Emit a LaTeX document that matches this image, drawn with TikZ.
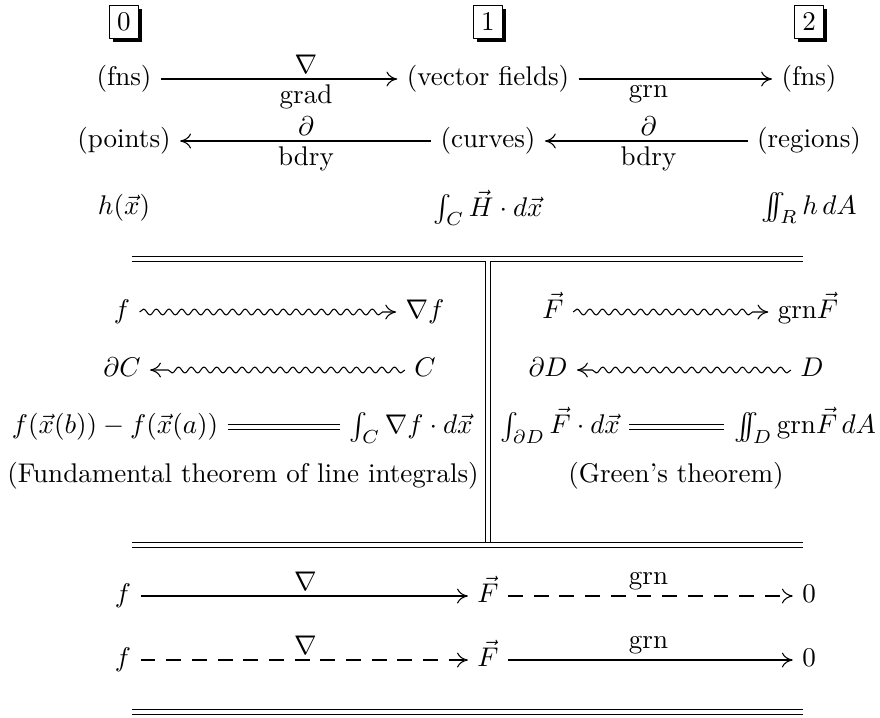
\documentclass[tikz,border=0pt]{standalone}
\usepackage{amsmath}
\usetikzlibrary{arrows.meta,calc,decorations.pathmorphing,shadows}

\begin{document}
\begin{tikzpicture}[x=0.37pt,y=-0.37pt,line join=round,>={To[length=4pt,width=5.5pt]},
	ent/.style={text height=7.5pt,text depth=2.5pt},
	lbl/.style={inner sep=2pt},
	numbox/.style={draw,fill=white,inner sep=3pt,drop shadow={shadow xshift=1.3pt,shadow yshift=-1.3pt,fill=black,opacity=1}},
	wavy/.style={->,decorate,decoration={snake,amplitude=1.1pt,segment length=4.7pt,post length=4.5pt}},
	dasharr/.style={->,dash pattern=on 5.5pt off 4pt},
	dbl/.style={double,double distance=1.3pt}]
	\useasboundingbox (0,0) rectangle (880,717);
	% degrees
	\node[numbox] (d0) at (124,22) {$0$};
	\node[numbox] (d1) at (488,22) {$1$};
	\node[numbox] (d2) at (809,22) {$2$};
	% spaces and maps
	\node[ent] (fnsa) at (124,79) {(fns)};
	\node[ent] (vf) at (488,79) {(vector fields)};
	\node[ent] (fnsb) at (809,79) {(fns)};
	\draw[->] (fnsa) -- (vf);
	\draw[->] (vf) -- (fnsb);
	\node[lbl,above] at ($(fnsa)!.5!(vf)$) {$\nabla$};
	\node[lbl,below] at ($(fnsa)!.5!(vf)$) {grad};
	\node[lbl,below] at ($(vf)!.5!(fnsb)$) {grn};
	\node[ent] (pts) at (124,141) {(points)};
	\node[ent] (crv) at (488,141) {(curves)};
	\node[ent] (reg) at (809,141) {(regions)};
	\draw[->] (crv) -- (pts);
	\draw[->] (reg) -- (crv);
	\node[lbl,above] at ($(pts)!.5!(crv)$) {$\partial$};
	\node[lbl,below] at ($(pts)!.5!(crv)$) {bdry};
	\node[lbl,above] at ($(crv)!.5!(reg)$) {$\partial$};
	\node[lbl,below] at ($(crv)!.5!(reg)$) {bdry};
	\node (ha) at (124,208) {$h(\vec x)$};
	\node (hb) at (488,208) {$\int_C \vec H\cdot d\vec x$};
	\node (hc) at (809,208) {$\int\mkern-11mu\int_R h\,dA$};
	\draw[dbl] (132,259) -- (803,259);
	% the two theorems
	\draw[dbl] (488,261) -- (488,543);
	\node[ent] (f1) at (122,312) {$f$};
	\node[ent] (gf) at (425,312) {$\nabla f$};
	\draw[wavy] (f1) -- (gf);
	\node[ent] (F1) at (553,312) {$\vec F$};
	\node[ent] (gF) at (808,312) {$\mathrm{grn}\vec F$};
	\draw[wavy] (F1) -- (gF);
	\node[ent] (dC) at (122,370) {$\partial C$};
	\node[ent] (C) at (425,370) {$C$};
	\draw[wavy] (C) -- (dC);
	\node[ent] (dD) at (548,370) {$\partial D$};
	\node[ent] (D) at (812,370) {$D$};
	\draw[wavy] (D) -- (dD);
	\node[ent] (lhsa) at (115,427) {$f(\vec x(b))-f(\vec x(a))$};
	\node[ent] (rhsa) at (411,427) {$\int_C \nabla f\cdot d\vec x$};
	\draw[dbl] (lhsa) -- (rhsa);
	\node[ent] (lhsb) at (560,427) {$\int_{\partial D}\vec F\cdot d\vec x$};
	\node[ent] (rhsb) at (805,427) {$\int\mkern-11mu\int_D \mathrm{grn}\vec F\,dA$};
	\draw[dbl] (lhsb) -- (rhsb);
	\node (ftli) at (243,476) {(Fundamental theorem of line integrals)};
	\node (gt) at (676,476) {(Green's theorem)};
	\draw[dbl] (132,545) -- (803,545);
	% exactness
	\node[ent] (fa) at (123,596) {$f$};
	\node[ent] (Fa) at (488,596) {$\vec F$};
	\node[ent] (za) at (809,596) {$0$};
	\draw[->] (fa) -- (Fa);
	\draw[dasharr] (Fa) -- (za);
	\node[lbl,above] at ($(fa)!.5!(Fa)$) {$\nabla$};
	\node[lbl,above] at ($(Fa)!.5!(za)$) {grn};
	\node[ent] (fb) at (123,660) {$f$};
	\node[ent] (Fb) at (488,660) {$\vec F$};
	\node[ent] (zb) at (809,660) {$0$};
	\draw[dasharr] (fb) -- (Fb);
	\draw[->] (Fb) -- (zb);
	\node[lbl,above] at ($(fb)!.5!(Fb)$) {$\nabla$};
	\node[lbl,above] at ($(Fb)!.5!(zb)$) {grn};
	\draw[dbl] (132,712) -- (803,712);
\end{tikzpicture}
\end{document}
